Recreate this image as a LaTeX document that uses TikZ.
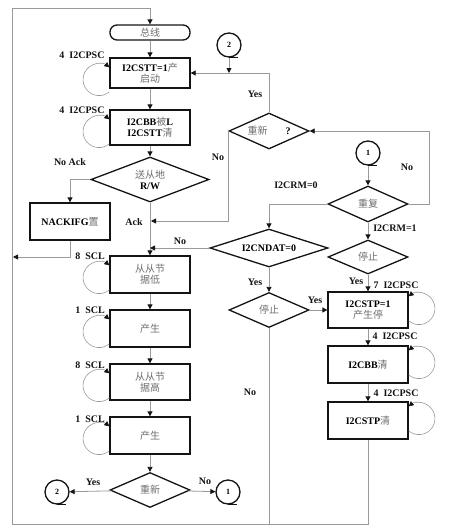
\documentclass[tikz,border=0pt]{standalone}
\usepackage{fontspec}
\setmainfont{Liberation Serif}
\newfontfamily\cjk{Noto Sans CJK SC}
\usetikzlibrary{arrows.meta,positioning,shapes.geometric,calc}
\definecolor{flowink}{HTML}{141414}
\definecolor{flowline}{HTML}{9A9A9A}
\definecolor{flowzh}{HTML}{6E6E6E}
\newcommand{\zh}[1]{{\cjk\mdseries\color{flowzh}#1}}
\tikzset{
  box/.style={draw=flowink, line width=1.3pt, minimum width=80pt, minimum height=36pt, align=center, inner sep=1pt},
  term/.style={draw=flowink, line width=1.3pt, rounded corners=7pt, minimum width=80pt, minimum height=15pt, inner sep=0pt},
  dec/.style={diamond, aspect=2.4, draw=flowink, line width=1.3pt, inner sep=0pt, align=center, minimum width=80pt, minimum height=35pt},
  conn/.style={circle, draw=flowink, line width=1.3pt, minimum size=24pt, inner sep=0pt, font=\fontsize{8}{9}\selectfont\bfseries},
  lbl/.style={inner sep=0pt, text=flowink},
  arr/.style={-{Triangle[length=5pt,width=5pt,color=flowink]}, draw=flowline, line width=0.8pt},
  ln/.style={draw=flowline, line width=0.8pt},
  lloop/.style={draw=flowline, line width=0.6pt, -{Triangle[length=5pt,width=5pt,color=flowink]}},
}

\begin{document}
\begin{tikzpicture}[x=1pt,y=-1pt,font=\fontsize{10}{11}\selectfont\bfseries]
  \useasboundingbox (0,0) rectangle (450,528);
  \node[term] (bus) at (150,32.5) {\zh{总线}};
  \node[box, minimum height=30pt] (sta) at (150,73) {I2CSTT=1\zh{产}\\\zh{启动}};
  \node[box, minimum height=35pt] (clr) at (150,127.5) {I2CBB\zh{被}L\\I2CSTT\zh{清}};
  \node[dec, minimum width=118pt, minimum height=45pt] (adr) at (150,179.5) {\zh{送从地}\\R/W};
  \node[box, minimum height=37pt] (nack) at (70,221.5) {NACKIFG\zh{置}};
  \node[box, minimum height=37pt] (lo) at (150,274.5) {\zh{从从节}\\\zh{据低}};
  \node[box, minimum height=37pt] (gen1) at (150,328.5) {\zh{产生}};
  \node[box, minimum height=36pt] (hi) at (150,382) {\zh{从从节}\\\zh{据高}};
  \node[box, minimum height=37pt] (gen2) at (150,435.5) {\zh{产生}};
  \node[dec] (again) at (150,490) {\zh{重新}};
  \node[conn] (outtwo) at (57,492) {2};
  \node[conn] (outone) at (228,492) {1};
  \node[conn] (intwo) at (229,45) {2};
  \node[dec, minimum height=36pt] (retry) at (269,131) {\zh{重新}\hspace{18pt}?};
  \node[conn] (inone) at (368,153) {1};
  \node[dec, minimum height=36pt] (rep) at (368,204) {\zh{重复}};
  \node[dec, minimum width=118pt, minimum height=38pt] (ndat) at (269,248) {I2CNDAT=0};
  \node[dec, minimum height=34pt] (stpa) at (368,257) {\zh{停止}};
  \node[dec] (stpb) at (269,310) {\zh{停止}};
  \node[box] (stp) at (368,310) {I2CSTP=1\\\zh{产生停}};
  \node[box, minimum height=37pt] (bbc) at (368,364.5) {I2CBB\zh{清}};
  \node[box, minimum height=37pt] (stc) at (368,420.5) {I2CSTP\zh{清}};
  \foreach \c in {intwo,inone,outtwo,outone} \draw[flowink, line width=1.3pt] (\c.south) -- ++(9,0);
  \coordinate (cnw) at (12,8);
  \coordinate (csw) at (12,524);
  \coordinate (nout) at (13,257);
  \coordinate (ackin) at (151,221);
  \draw[arr] (stc) -- (stc |- csw) -- (csw) -- (cnw) -- (cnw -| bus) -- (bus);
  \draw[ln] (stpb) -- (stpb |- csw);
  \draw[arr] (bus) -- (sta); \draw[arr] (sta) -- (clr); \draw[arr] (clr) -- (adr);
  \draw[arr] (adr.west) -| (nack.north);
  \draw[arr] (nack.south) |- (nout);
  \draw[arr] (adr.south) -- (lo.north);
  \draw[arr] (retry.west) |- (ackin);
  \draw[arr] (ndat.west) -- (ndat.west -| lo.north);
  \draw[arr] (retry.north) |- (sta.east);
  \draw[arr] (intwo) -- (intwo |- sta.east);
  \draw[arr] (rep.east) -- ++(21,0) |- (retry.east);
  \draw[arr] (inone) -- (rep);
  \draw[arr] (rep.west) -| (ndat.north);
  \draw[arr] (rep) -- (stpa); \draw[arr] (ndat) -- (stpb);
  \draw[arr] (stpb) -- (stp); \draw[arr] (stpa) -- (stp);
  \draw[arr] (stp) -- (bbc); \draw[arr] (bbc) -- (stc);
  \draw[arr] (lo) -- (gen1); \draw[arr] (gen1) -- (hi); \draw[arr] (hi) -- (gen2); \draw[arr] (gen2) -- (again);
  \draw[arr] (again) -- (outtwo); \draw[arr] (again) -- (outone);
  \foreach \b in {sta,clr,lo,gen1,hi,gen2} \draw[lloop] ([yshift=-34.5pt]\b.north west) arc[start angle=-50, end angle=-310, radius=16pt];
  \foreach \b in {stp,bbc,stc} \draw[lloop] ([yshift=-29.5pt]\b.north east) arc[start angle=230, end angle=490, radius=16pt];
  \node[lbl] (psa) at (82,55) {4~~I2CPSC};
  \node[lbl] (psb) at (82,110) {4~~I2CPSC};
  \node[lbl] (sca) at (90,256) {8~~SCL};
  \node[lbl] (scb) at (90,310) {1~~SCL};
  \node[lbl] (scc) at (90,365) {8~~SCL};
  \node[lbl] (scd) at (90,419) {1~~SCL};
  \node[lbl] (noack) at (70,162) {No Ack};
  \node[lbl] (ack) at (134,222) {Ack};
  \node[lbl] (nondat) at (180,241) {No};
  \node[lbl] (noretry) at (218,157) {No};
  \node[lbl] (yesretry) at (255,94) {Yes};
  \node[lbl] (norep) at (407,167) {No};
  \node[lbl] (rmzero) at (296,185) {I2CRM=0};
  \node[lbl] (rmone) at (395,228) {I2CRM=1};
  \node[lbl] (yesndat) at (255,282) {Yes};
  \node[lbl] (yesstpb) at (315,300) {Yes};
  \node[lbl] (yesstpa) at (356,281) {Yes};
  \node[lbl] (psc) at (396,285) {7~~I2CPSC};
  \node[lbl] (psd) at (395,336) {4~~I2CPSC};
  \node[lbl] (pse) at (396,393) {4~~I2CPSC};
  \node[lbl] (nostpb) at (250,392) {No};
  \node[lbl] (yesagain) at (93,482) {Yes};
  \node[lbl] (noagain) at (205,481) {No};
\end{tikzpicture}
\end{document}
